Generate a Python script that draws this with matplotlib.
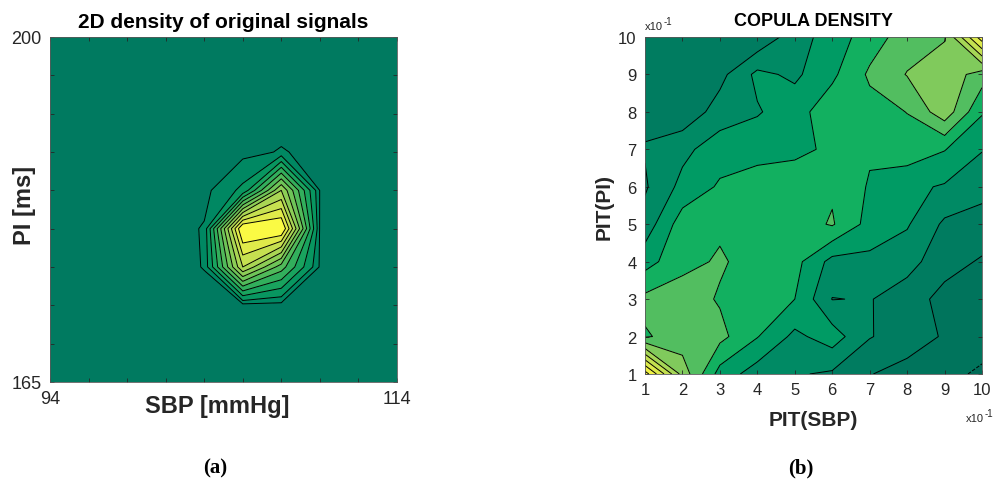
import numpy as np
import matplotlib.pyplot as plt

plt.rcParams['font.family'] = ['Liberation Sans', 'DejaVu Sans']

# ---- left panel: 2D density of SBP / PI on a 10 x 10 grid ----
sbp_grid = [94.0, 96.22, 98.44, 100.67, 102.89, 105.11, 107.33, 109.56, 111.78, 114.0]
pi_grid = [165.0, 168.89, 172.78, 176.67, 180.56, 184.44, 188.33, 192.22, 196.11, 200.0]

# rows follow pi_grid (bottom to top), columns follow sbp_grid
dens_orig = np.array([
    [0, 0, 0, 0, 0.00, 0.00, 0.00, 0.00, 0, 0],
    [0, 0, 0, 0, 0.00, 0.00, 0.00, 0.00, 0, 0],
    [0, 0, 0, 0, 0.00, 0.00, 0.00, 0.00, 0, 0],
    [0, 0, 0, 0, 0.33, 8.00, 4.50, 0.20, 0, 0],
    [0, 0, 0, 0, 0.35, 11.2, 11.2, 0.20, 0, 0],
    [0, 0, 0, 0, 0.10, 1.20, 7.00, 0.25, 0, 0],
    [0, 0, 0, 0, 0.00, 0.10, 0.35, 0.10, 0, 0],
    [0, 0, 0, 0, 0.00, 0.00, 0.00, 0.00, 0, 0],
    [0, 0, 0, 0, 0.00, 0.00, 0.00, 0.00, 0, 0],
    [0, 0, 0, 0, 0.00, 0.00, 0.00, 0.00, 0, 0],
])
orig_levels = [0.3, 1, 2, 3, 4, 5, 6, 7, 8, 9, 10]
orig_colors = ['#007a60', '#008862', '#089660', '#19a35e', '#32af5c', '#50ba5a',
               '#6ec458', '#8ccd56', '#aad654', '#c6e050', '#e0ea4a', '#fafa44']

# ---- right panel: copula density on PIT grid (x10^-1) ----
pit_grid = [1, 2, 3, 4, 5, 6, 7, 8, 9, 10]

# rows follow pit_grid for PIT(PI) (bottom to top), columns PIT(SBP)
dens_copula = np.array([
    [10.5, 5.60, 2.60, 1.50, 1.10, 0.85, 0.04, -0.36, -0.50, -1.30],
    [3.90, 4.40, 4.30, 3.05, 1.75, 2.50, 1.06, 0.50, -0.10, -0.19],
    [4.26, 4.50, 3.90, 3.50, 3.00, 0.97, 1.06, 0.45, -0.30, -0.50],
    [2.60, 3.70, 4.12, 3.60, 3.34, 1.66, 1.74, 1.40, 0.35, -0.10],
    [1.40, 3.53, 3.83, 3.60, 3.50, 4.10, 2.63, 2.10, 0.82, 0.55],
    [0.88, 2.30, 3.13, 3.40, 3.50, 3.85, 2.90, 2.23, 1.90, 1.37],
    [1.07, 1.73, 2.55, 2.70, 2.80, 3.15, 3.13, 3.60, 3.05, 2.05],
    [0.72, 0.27, 1.45, 1.90, 2.60, 3.60, 3.63, 4.02, 5.62, 3.10],
    [0.40, 0.45, 0.69, 2.25, 1.80, 2.80, 4.16, 5.05, 5.70, 4.49],
    [0.30, 0.30, 0.40, 0.17, 1.55, 2.45, 3.50, 4.50, 4.90, 9.60],
])
copula_levels = [-1, 0, 1, 2, 3, 4, 5, 6, 7, 8, 9, 10]
copula_colors = ['#006c58', '#00745c', '#007c60', '#008a64', '#009b64', '#12b060',
                 '#52be60', '#80ca5c', '#a5d656', '#c3e050', '#dcea4b', '#f0f246', '#fcfa42']

ink = '#262626'


def px(x, y):
    return x / 1000, 1 - y / 481


fig = plt.figure(figsize=(10, 4.81), dpi=100)

# left axes
ax1 = fig.add_axes([50 / 1000, 1 - 383 / 481, 347 / 1000, 345 / 481])
ax1.contourf(sbp_grid, pi_grid, dens_orig, levels=[-1] + orig_levels + [12], colors=orig_colors)
ax1.contour(sbp_grid, pi_grid, dens_orig, levels=orig_levels, colors='k', linewidths=0.7)
ax1.set_xlim(94, 114)
ax1.set_ylim(165, 200)
ax1.set_xticks(sbp_grid)
ax1.set_xticklabels(['94'] + [''] * 8 + ['114'])
ax1.set_yticks(pi_grid)
ax1.set_yticklabels(['165'] + [''] * 8 + ['200'])
ax1.tick_params(labelsize=13, pad=6)

# right axes
ax2 = fig.add_axes([645 / 1000, 1 - 375 / 481, 337 / 1000, 337 / 481])
ax2.contourf(pit_grid, pit_grid, dens_copula, levels=[-3] + copula_levels + [12], colors=copula_colors)
ax2.contour(pit_grid, pit_grid, dens_copula, levels=copula_levels, colors='k', linewidths=0.7)
ax2.set_xlim(1, 10)
ax2.set_ylim(1, 10)
ax2.set_xticks(pit_grid)
ax2.set_yticks(pit_grid)
ax2.tick_params(labelsize=12, pad=6)

for ax in (ax1, ax2):
    ax.tick_params(direction='in', length=3, width=0.6, colors=ink,
                   top=True, right=True, labelcolor=ink)
    for s in ax.spines.values():
        s.set_color('0.35')
        s.set_linewidth(0.6)

# titles and axis labels
fig.text(*px(223, 22), '2D density of original signals', ha='center', va='center',
         fontsize=15, fontweight='bold')
fig.text(*px(217, 407), 'SBP [mmHg]', ha='center', va='center', fontsize=17, fontweight='bold', color=ink)
fig.text(*px(24, 205), 'PI [ms]', ha='center', va='center', rotation=90,
         fontsize=17, fontweight='bold', color=ink)

fig.text(*px(813, 22), 'COPULA DENSITY', ha='center', va='center', fontsize=13, fontweight='bold')
fig.text(*px(813, 420), 'PIT(SBP)', ha='center', va='center', fontsize=15, fontweight='bold', color=ink)
fig.text(*px(604, 207), 'PIT(PI)', ha='center', va='center', rotation=90,
         fontsize=15, fontweight='bold', color=ink)

# x10^-1 exponent markers
fig.text(*px(645, 30), 'x10', ha='left', va='baseline', fontsize=8, color=ink)
fig.text(*px(664, 25), '-1', ha='left', va='baseline', fontsize=7, color=ink)
fig.text(*px(966, 422), 'x10', ha='left', va='baseline', fontsize=8, color=ink)
fig.text(*px(985, 417), '-1', ha='left', va='baseline', fontsize=7, color=ink)

# sub-figure tags
fig.text(*px(215, 468), '(a)', ha='center', va='center', fontsize=15, fontweight='bold',
         family=['Liberation Serif', 'DejaVu Serif'])
fig.text(*px(801, 468), '(b)', ha='center', va='center', fontsize=15, fontweight='bold',
         family=['Liberation Serif', 'DejaVu Serif'])

fig.savefig('out.png', dpi=100)
